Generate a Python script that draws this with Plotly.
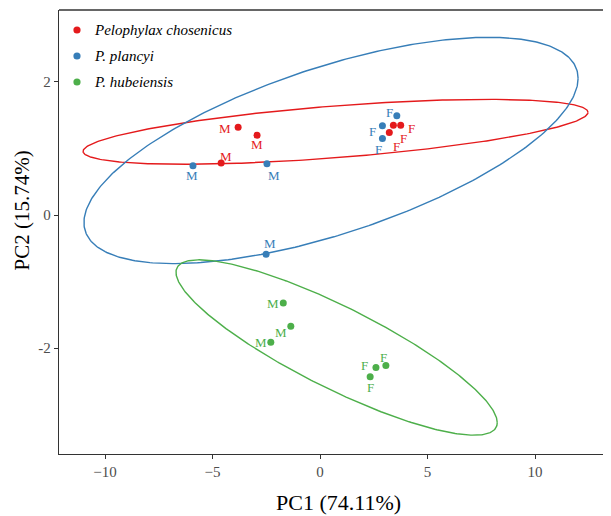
import numpy as np
import plotly.graph_objects as go

# ---- data ----
groups = ["Pelophylax chosenicus", "P. plancyi", "P. hubeiensis"]
colors = ["#E41A1C", "#377EB8", "#4DAF4A"]

chos_pc1 = [-3.81, -2.93, -4.60, 3.41, 3.75, 3.22]
chos_pc2 = [1.32, 1.20, 0.78, 1.35, 1.35, 1.24]
chos_sex = ["M", "M", "M", "F", "F", "F"]

plan_pc1 = [-5.91, -2.47, -2.51, 3.57, 2.90, 2.90]
plan_pc2 = [0.74, 0.77, -0.59, 1.49, 1.34, 1.15]
plan_sex = ["M", "M", "M", "F", "F", "F"]

hube_pc1 = [-1.71, -1.36, -2.29, 2.60, 3.06, 2.33]
hube_pc2 = [-1.32, -1.67, -1.91, -2.29, -2.26, -2.43]
hube_sex = ["M", "M", "M", "F", "F", "F"]

# ellipse parameters: centre, conjugate half-axis vectors (data units)
ell_center = [(0.72, 1.25), (0.51, 0.97), (0.77, -1.99)]
ell_u = [(11.74, 0.293), (11.49, 1.083), (7.47, -1.128)]
ell_v = [(0.0, 0.39), (0.0, 1.31), (0.0, 0.68)]

x_tickvals = [-10, -5, 0, 5, 10]
x_ticktext = ["\u221210", "\u22125", "0", "5", "10"]
y_tickvals = [-2, 0, 2]
y_ticktext = ["-2", "0", "2"]

# ---- style: label offsets in pixels (right, down) ----
chos_off = [(-13, 1), (0, 9), (5, -7), (10, 13), (11, 3), (7, 14)]
plan_off = [(-1, 10), (7, 12), (4, -11), (-7, -3), (-10, 6), (-4, 11)]
hube_off = [(-10, 1), (-10, 6), (-10, 0), (-11, -2), (-2, -8), (0, 11)]

pcs = [(chos_pc1, chos_pc2, chos_sex, chos_off),
       (plan_pc1, plan_pc2, plan_sex, plan_off),
       (hube_pc1, hube_pc2, hube_sex, hube_off)]

serif = "Liberation Serif, Times New Roman, serif"
fig = go.Figure()

t = np.linspace(0, 2 * np.pi, 400)
for i, g in enumerate(groups):
    cx, cy = ell_center[i]
    ux, uy = ell_u[i]
    vx, vy = ell_v[i]
    fig.add_trace(go.Scatter(
        x=cx + ux * np.cos(t) + vx * np.sin(t),
        y=cy + uy * np.cos(t) + vy * np.sin(t),
        mode="lines", line=dict(color=colors[i], width=1.4),
        showlegend=False, hoverinfo="skip"))

for i, g in enumerate(groups):
    x, y, sex, off = pcs[i]
    fig.add_trace(go.Scatter(
        x=x, y=y, mode="markers", name=g,
        marker=dict(color=colors[i], size=7),
        showlegend=False))
    for xi, yi, s, (dx, dy) in zip(x, y, sex, off):
        fig.add_annotation(x=xi, y=yi, text=s, showarrow=False,
                           xshift=dx, yshift=-dy,
                           font=dict(family=serif, size=13, color=colors[i]))

# plot area in window pixels: x 59..611, y 10..454
def px(wx):
    return (wx - 59) / 552.0

def py(wy):
    return 1 - (wy - 10) / 444.0

# manual legend
leg_rows = [30, 56, 82]
for i, g in enumerate(groups):
    fig.add_shape(type="circle", xref="paper", yref="paper",
                  xsizemode="pixel", ysizemode="pixel",
                  xanchor=px(77), yanchor=py(leg_rows[i]),
                  x0=-3.6, x1=3.6, y0=-3.6, y1=3.6,
                  fillcolor=colors[i], line=dict(width=0))
    fig.add_annotation(xref="paper", yref="paper", x=px(92), y=py(leg_rows[i]),
                       xanchor="left", yanchor="middle", showarrow=False,
                       text="<i>%s</i>" % g,
                       font=dict(family=serif, size=15, color="black"))

# axis titles
fig.add_annotation(xref="paper", yref="paper", x=px(338.6), y=py(502),
                   xanchor="center", yanchor="middle", showarrow=False,
                   text="PC1 (74.11%)", font=dict(family=serif, size=22, color="black"))
fig.add_annotation(xref="paper", yref="paper", x=px(21.5), y=py(211),
                   xanchor="center", yanchor="middle", showarrow=False, textangle=-90,
                   borderpad=0,
                   text="PC2 (15.74%)", font=dict(family=serif, size=21, color="black"))

fig.add_shape(type="line", xref="paper", yref="paper", x0=0, x1=1, y0=1, y1=1,
              line=dict(color="#333333", width=1.3))

fig.update_layout(
    width=603, height=508,
    margin=dict(l=51, r=0, t=2, b=62),
    paper_bgcolor="white", plot_bgcolor="white",
    font=dict(family=serif),
    showlegend=False,
    xaxis=dict(range=[-12.14, 13.53], tickvals=x_tickvals, ticktext=x_ticktext,
               showgrid=False, zeroline=False, showline=True, linecolor="#333333",
               linewidth=1.3, ticks="outside", ticklen=4, tickcolor="#333333",
               tickfont=dict(family=serif, size=15, color="#4D4D4D"),
               automargin=False),
    yaxis=dict(range=[-3.59, 3.08], tickvals=y_tickvals, ticktext=y_ticktext,
               showgrid=False, zeroline=False, showline=True, linecolor="#333333",
               linewidth=1.3, ticks="outside", ticklen=4, tickcolor="#333333",
               tickfont=dict(family=serif, size=15, color="#4D4D4D"),
               automargin=False),
)

fig.write_html("out.html")
